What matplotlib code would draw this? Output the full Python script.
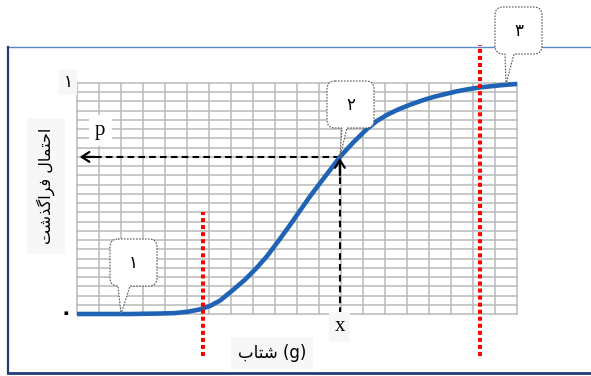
import numpy as np
import matplotlib
matplotlib.use("Agg")
import matplotlib.pyplot as plt
from matplotlib.path import Path
from matplotlib.patches import PathPatch
from matplotlib.lines import Line2D

W, H = 591, 376

# ------------------------------------------------------------------ data
# fragility curve (acceleration in grid columns, probability 0..1)
accel = [0.0, 2.41, 3.77, 4.45, 5.05, 5.59, 6.05, 6.50, 7.09, 7.64, 8.18,
         8.64, 9.14, 9.68, 10.14, 10.59, 11.05, 11.50, 11.95, 12.55, 13.18,
         13.64, 14.09, 14.59, 15.14, 15.68, 16.18, 16.73, 17.27, 17.77, 18.32,
         19.23, 20.0]
prob = [0.0, 0.0, 0.002, 0.004, 0.010, 0.020, 0.035, 0.058, 0.104, 0.149, 0.201,
        0.251, 0.314, 0.385, 0.448, 0.509, 0.567, 0.623, 0.680, 0.742, 0.801,
        0.836, 0.862, 0.885, 0.906, 0.924, 0.939, 0.952, 0.964, 0.973, 0.981,
        0.990, 0.996]

x_read = 11.95          # the "x" read-off point
p_read = 0.680          # the matching probability "p"
limits = [5.73, 18.32]  # red dotted bounds
limit_tops = [0.442, 1.165]
limit_bottom = -0.182

n_cols, n_rows = 20, 25
ylabel = "احتمال فراگذشت"
xlabel = "شتاب"
callout_labels = ["۱", "۲", "۳"]
callout_points = [(2.0, 0.0), (x_read, p_read), (19.5, 0.995)]


# ------------------------------------------------------------- arabic helper
# matplotlib has no arabic shaping, so map letters to presentation forms by hand
# forms: (isolated, final, initial, medial); initial None => right-joining only
FORMS = {
    "ا": ("\uFE8D", "\uFE8E", None, None),
    "ب": ("\uFE8F", "\uFE90", "\uFE91", "\uFE92"),
    "ت": ("\uFE95", "\uFE96", "\uFE97", "\uFE98"),
    "ح": ("\uFEA1", "\uFEA2", "\uFEA3", "\uFEA4"),
    "ذ": ("\uFEAB", "\uFEAC", None, None),
    "ر": ("\uFEAD", "\uFEAE", None, None),
    "ش": ("\uFEB5", "\uFEB6", "\uFEB7", "\uFEB8"),
    "ف": ("\uFED1", "\uFED2", "\uFED3", "\uFED4"),
    "ل": ("\uFEDD", "\uFEDE", "\uFEDF", "\uFEE0"),
    "م": ("\uFEE1", "\uFEE2", "\uFEE3", "\uFEE4"),
    "گ": ("\uFB92", "\uFB93", "\uFB94", "\uFB95"),
}


def shape(word):
    """Shape a persian string and return it in visual (left-to-right) order."""
    out = []
    for i, ch in enumerate(word):
        if ch not in FORMS:
            out.append(ch)
            continue
        prev = word[i - 1] if i > 0 else None
        nxt = word[i + 1] if i + 1 < len(word) else None
        joins_prev = prev in FORMS and FORMS[prev][2] is not None
        joins_next = nxt in FORMS and FORMS[ch][2] is not None
        iso, fin, ini, med = FORMS[ch]
        if joins_prev and joins_next:
            out.append(med)
        elif joins_prev:
            out.append(fin)
        elif joins_next:
            out.append(ini)
        else:
            out.append(iso)
    return "".join(out)[::-1]


def fx(px, py):
    """pixel (top-left origin) -> figure fraction"""
    return px / W, 1 - py / H


# ------------------------------------------------------------------- figure
fig = plt.figure(figsize=(W / 100, H / 100), dpi=100)
ax = fig.add_axes([77 / W, 1 - 314 / H, 440 / W, 231 / H])
ax.set_xlim(0, n_cols)
ax.set_ylim(0, 1)
ax.set_xticks(np.arange(n_cols + 1))
ax.set_yticks(np.arange(n_rows + 1) / n_rows)
ax.grid(True, color="#b9b9b9", lw=1.1)
ax.tick_params(length=0, labelbottom=False, labelleft=False)
for gl in ax.get_xgridlines() + ax.get_ygridlines():
    gl.set_clip_on(False)
for s in ax.spines.values():
    s.set_visible(False)
ax.set_axisbelow(True)

ax.plot(accel, prob, color="#1f63b5", lw=3.3, solid_capstyle="butt",
        solid_joinstyle="round", zorder=4, clip_on=False)

# red dotted bounds
for xv, top in zip(limits, limit_tops):
    ax.plot([xv, xv], [limit_bottom, top], color="#ff0000", lw=2.9,
            linestyle=(0, (1.0, 0.75)), clip_on=False, zorder=5)

# dashed read-off arrows
dash = (0, (3.2, 2.0))
ax.plot([x_read, 0.2], [p_read, p_read], color="black", lw=1.5, linestyle=dash,
        clip_on=False, zorder=3)
ax.plot([x_read, x_read], [0, p_read - 0.02], color="black", lw=1.5, linestyle=dash,
        clip_on=False, zorder=3)
head = dict(arrowstyle="->,head_length=0.55,head_width=0.35", lw=1.6, color="black",
            shrinkA=0, shrinkB=0)
ax.annotate("", xy=(0.12, p_read), xytext=(0.8, p_read), arrowprops=head,
            annotation_clip=False, zorder=6)
ax.annotate("", xy=(x_read, p_read - 0.005), xytext=(x_read, p_read - 0.08),
            arrowprops=head, annotation_clip=False, zorder=6)

# small labels on the chart
box_grey = dict(boxstyle="square,pad=0.25", fc="#f7f7f7", ec="none")
ax.text(-0.41, 1.004, "۱", fontsize=12, ha="center", va="center",
        family="DejaVu Sans", bbox=box_grey, clip_on=False)
ax.text(-0.5, 0.004, "۰", fontsize=15, fontweight="bold", ha="center", va="center",
        family="DejaVu Sans", clip_on=False)
ax.text(1.05, 0.795, "p", fontsize=15, ha="center", va="center",
        family="Liberation Serif", bbox=dict(boxstyle="square,pad=0.3", fc="white", ec="none"),
        clip_on=False, zorder=6)
ax.text(x_read, -0.056, "x", fontsize=15, ha="center", va="center",
        family="Liberation Serif", bbox=box_grey, clip_on=False)

fig.text(*fx(46, 186), shape(ylabel), rotation=90, fontsize=11.5, ha="center",
         va="center", family="DejaVu Sans",
         bbox=dict(boxstyle="square,pad=0.6", fc="#f7f7f7", ec="none"))
fig.text(*fx(272, 353), shape(xlabel) + " (g)", fontsize=12, ha="center",
         va="center", family=["DejaVu Sans"],
         bbox=dict(boxstyle="square,pad=0.4", fc="#f7f7f7", ec="none"))


# ----------------------------------------------------------------- callouts
def callout(label, tip, box, base, r=8):
    x0, y0, x1, y1 = box
    b0, b1 = base
    tf = fig.transFigure.inverted().transform(ax.transData.transform(tip))
    tx, ty = tf[0] * W, (1 - tf[1]) * H
    pts = [
        ((x0 + r, y0), Path.MOVETO), ((x1 - r, y0), Path.LINETO),
        ((x1, y0), Path.CURVE3), ((x1, y0 + r), Path.CURVE3),
        ((x1, y1 - r), Path.LINETO),
        ((x1, y1), Path.CURVE3), ((x1 - r, y1), Path.CURVE3),
        ((b1, y1), Path.LINETO), ((tx, ty), Path.LINETO), ((b0, y1), Path.LINETO),
        ((x0 + r, y1), Path.LINETO),
        ((x0, y1), Path.CURVE3), ((x0, y1 - r), Path.CURVE3),
        ((x0, y0 + r), Path.LINETO),
        ((x0, y0), Path.CURVE3), ((x0 + r, y0), Path.CURVE3),
        ((x0 + r, y0), Path.CLOSEPOLY),
    ]
    verts = [fx(*p) for p, _ in pts]
    codes = [c for _, c in pts]
    patch = PathPatch(Path(verts, codes), fc="white", ec="#555555", lw=0.8,
                      linestyle=(0, (1.5, 1.2)), transform=fig.transFigure, zorder=7)
    fig.add_artist(patch)
    fig.text(*fx((x0 + x1) / 2, (y0 + y1) / 2), label, fontsize=12, ha="center",
             va="center", family="DejaVu Sans", zorder=8)


callout(callout_labels[0], callout_points[0], (110, 239, 157, 286), (118, 130))
callout(callout_labels[1], callout_points[1], (327, 81, 374, 128), (342, 347))
callout(callout_labels[2], callout_points[2], (495, 7, 542, 54), (505, 514))

# outer frame
fig.add_artist(Line2D([fx(8, 0)[0], 1], [fx(0, 47)[1]] * 2, color="#5b86c5", lw=1.0))
fig.add_artist(Line2D([fx(8, 0)[0]] * 2, [fx(0, 47)[1], fx(0, 373)[1]],
                      color="#1f3c74", lw=1.6))
fig.add_artist(Line2D([fx(8, 0)[0], 1], [fx(0, 372.5)[1]] * 2, color="#1f3c74", lw=2.0))

fig.savefig("out.png", dpi=100)
